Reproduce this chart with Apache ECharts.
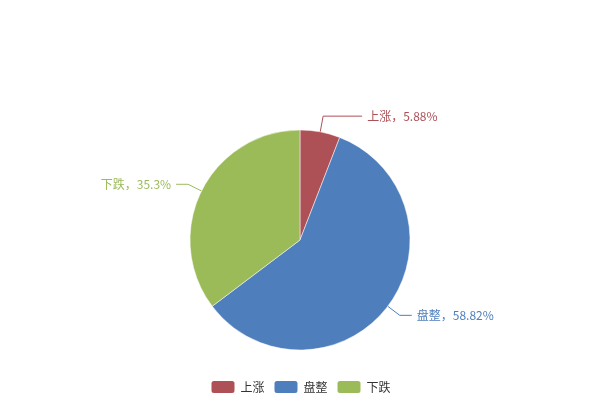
<!DOCTYPE html>
<html><head><meta charset="utf-8">
<script src="https://cdn.jsdelivr.net/npm/echarts@6/dist/echarts.min.js"></script>
<style>html,body{margin:0;padding:0;background:#fff}#c{width:600px;height:400px}</style>
</head><body><div id="c"></div>
<script>
const categories = ['上涨', '盘整', '下跌'];
const values = [1, 10, 6];
const colors = ['#ad5157', '#4e7ebb', '#9bbb59'];

const chart = echarts.init(document.getElementById('c'));
chart.setOption({
  animation: false,
  color: colors,
  textStyle: { fontFamily: '"Noto Sans CJK SC", sans-serif' },
  legend: {
    bottom: 0,
    itemWidth: 25, itemHeight: 14,
    textStyle: { color: '#333', fontSize: 12 },
    data: categories
  },
  series: [{
    type: 'pie',
    center: [300, 240],
    radius: 110,
    startAngle: 90,
    data: categories.map((c, i) => ({
      name: c, value: values[i],
      label: { color: colors[i] },
      labelLine: i === 0 ? { length: 16, length2: 39 } : undefined
    })),
    label: { formatter: '{b}，{d}%', fontSize: 12 },
    labelLine: { length: 15, length2: 12 },
    itemStyle: { borderColor: '#fff', borderWidth: 0.5 }
  }]
});
</script></body></html>
